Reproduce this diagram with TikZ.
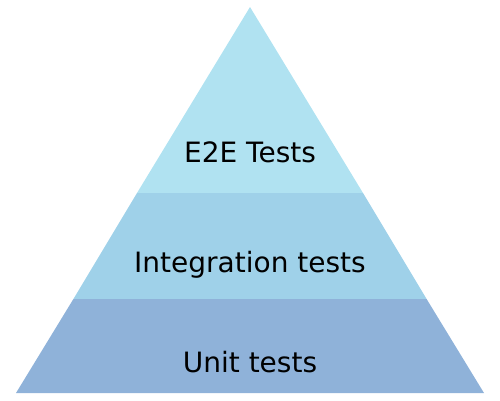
\documentclass[tikz,border=0pt]{standalone}
\usepackage{fontspec}
\setmainfont{DejaVu Sans}
\definecolor{topc}{HTML}{B0E2F1}
\definecolor{midc}{HTML}{9FD1E9}
\definecolor{botc}{HTML}{8FB2D9}
\begin{document}
\begin{tikzpicture}[x=1pt,y=-1pt,
  lbl/.style={font=\fontsize{28}{30}\selectfont, text=black, inner sep=0pt, anchor=base}]
\useasboundingbox (0,0) rectangle (500,400);
\coordinate (apex) at (250,7);
\coordinate (bl) at (16,393);
\coordinate (br) at (484,393);
\coordinate (m1l) at (137,193);
\coordinate (m1r) at (363,193);
\coordinate (m2l) at (73.4,299);
\coordinate (m2r) at (426.6,299);
\fill[topc] (apex) -- (m1r) -- (m1l) -- cycle;
\fill[midc] (m1l) -- (m1r) -- (m2r) -- (m2l) -- cycle;
\fill[botc] (m2l) -- (m2r) -- (br) -- (bl) -- cycle;
\node[lbl] (e2e) at (250,162.5) {E2E Tests};
\node[lbl] (int) at (250,272) {Integration tests};
\node[lbl] (unit) at (250,372) {Unit tests};
\end{tikzpicture}
\end{document}
